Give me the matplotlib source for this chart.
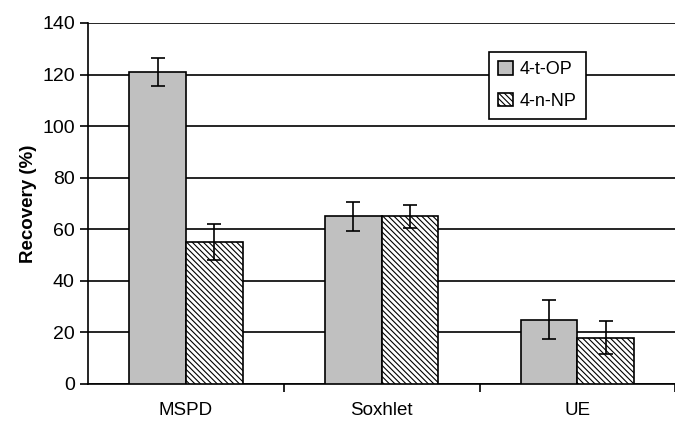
import matplotlib.pyplot as plt
import numpy as np

plt.rcParams['font.family'] = ['Liberation Sans', 'DejaVu Sans']
plt.rcParams['hatch.color'] = '#666666'
plt.rcParams['hatch.linewidth'] = 0.8

# Data
methods = ['MSPD', 'Soxhlet', 'UE']
op_values = [121, 65, 25]
op_errors = [5.3, 5.5, 7.5]
np_values = [55, 65, 18]
np_errors = [7, 4.5, 6.5]

fig = plt.figure(figsize=(6.75, 4.25), dpi=100)
ax = fig.add_axes([0.1304, 0.0965, 0.87, 0.8494])

x = np.arange(len(methods))
w = 0.29

ax.bar(x - w / 2, op_values, w, color='#c0c0c0', edgecolor='black', linewidth=1.2,
       yerr=op_errors, capsize=5, error_kw={'elinewidth': 1.2, 'capthick': 1.2},
       label='4-t-OP', zorder=3)
ax.bar(x + w / 2, np_values, w, color='white', edgecolor='black', linewidth=1.2,
       hatch='\\' * 6, yerr=np_errors, capsize=5,
       error_kw={'elinewidth': 1.2, 'capthick': 1.2}, label='4-n-NP', zorder=3)

ax.set_xlim(-0.5, 2.5)
ax.set_ylim(0, 140)
ax.set_yticks(range(0, 141, 20))
ax.yaxis.grid(True, color='black', linewidth=1.2, zorder=0)
ax.set_axisbelow(True)

ax.set_xticks(x)
ax.set_xticklabels(methods, fontsize=13.5)
ax.tick_params(axis='x', which='major', length=0, pad=13)
ax.set_xticks([0.5, 1.5, 2.5], minor=True)
ax.tick_params(axis='x', which='minor', length=6, width=1.2, direction='out')
ax.tick_params(axis='y', labelsize=14, length=6, width=1.2, direction='out')

for s in ['top', 'right']:
    ax.spines[s].set_visible(False)
ax.spines['left'].set_linewidth(1.2)
ax.spines['bottom'].set_linewidth(1.2)

ax.set_ylabel('Recovery (%)', fontsize=13.5, fontweight='bold', labelpad=4)

leg = ax.legend(loc='upper left', bbox_to_anchor=(0.668, 0.945), fontsize=13,
                handlelength=0.8, handleheight=0.8, fancybox=False,
                framealpha=1, edgecolor='black', borderpad=0.5, labelspacing=0.8,
                handletextpad=0.4)
leg.get_frame().set_linewidth(1.2)

plt.savefig('out.png', dpi=100)
